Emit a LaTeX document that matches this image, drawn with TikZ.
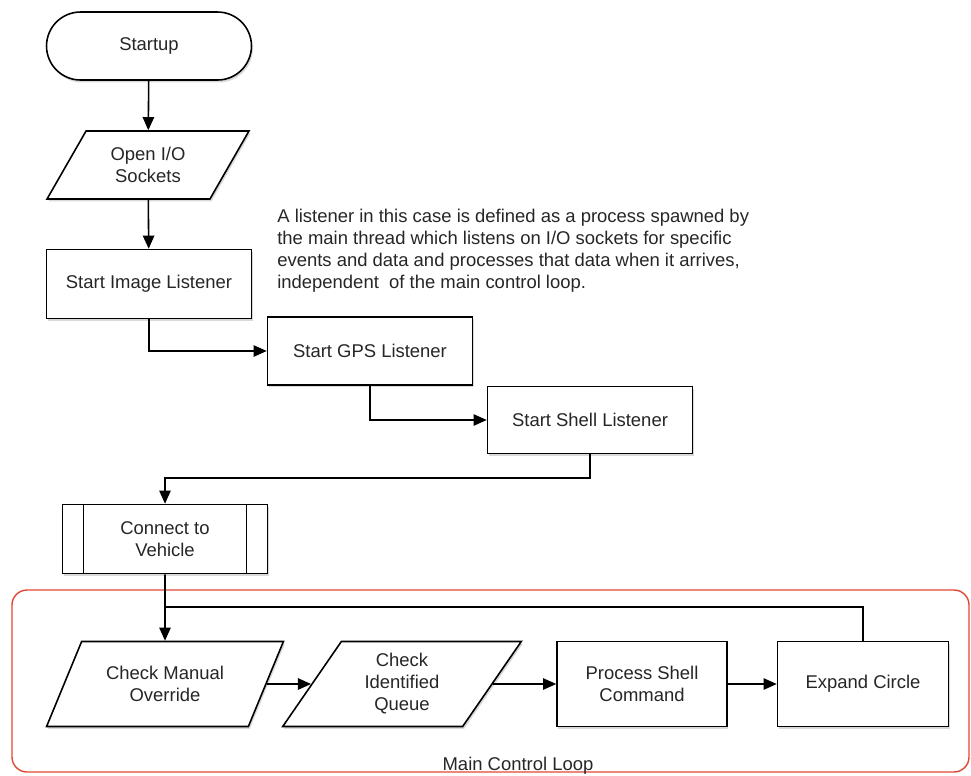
\documentclass[tikz,border=0pt]{standalone}
\usepackage{fontspec}
\setmainfont{Liberation Sans}
\usepackage{tikz}
\usetikzlibrary{positioning, arrows.meta, shapes, shadows}
\definecolor{loopred}{RGB}{224,72,52}

\begin{document}
\begin{tikzpicture}[
        x=0.02cm, y=-0.02cm,
        every node/.style={font=\fontsize{10.5}{12.5}\selectfont, text=black!85},
        shade_style/.style={drop shadow={shadow xshift=0.8pt, shadow yshift=-1.4pt, opacity=0.3}},
        box_style/.style={draw, fill=white, line width=0.9pt, shade_style, minimum width=4.1cm, minimum height=1.36cm, align=center},
        start_style/.style={box_style, rounded corners=0.68cm},
        io_style/.style={box_style, trapezium, trapezium left angle=60, trapezium right angle=120, trapezium stretches=true},
        sub_style/.style={box_style, path picture={
            \draw[line width=0.9pt] ([xshift=0.42cm]path picture bounding box.north west) -- ([xshift=0.42cm]path picture bounding box.south west);
            \draw[line width=0.9pt] ([xshift=-0.42cm]path picture bounding box.north east) -- ([xshift=-0.42cm]path picture bounding box.south east);}},
        edge_style/.style={line width=0.9pt},
        arrow_style/.style={edge_style, -{Triangle[length=7.5pt, width=6.5pt]}},
        loop_style/.style={draw=loopred, line width=0.8pt, rounded corners=0.3cm}
    ]
        \useasboundingbox (0,0) rectangle (971,775);

        % Coordinates
        \coordinate (startup_c) at (149,46);
        \coordinate (open_c) at (148,165);
        \coordinate (image_c) at (149,284);
        \coordinate (gps_c) at (370,351);
        \coordinate (shell_c) at (590,420);
        \coordinate (vehicle_c) at (165,539);
        \coordinate (manual_c) at (165,684);
        \coordinate (queue_c) at (402,684);
        \coordinate (command_c) at (642,684);
        \coordinate (expand_c) at (863,684);
        \coordinate (bend_shell) at (590,478);
        \coordinate (loop_join) at (165,607);

        % Main control loop frame
        \draw[loop_style] (12,590) rectangle (969,772);
        \node (loop_label) at (518,766) {Main Control Loop};

        % Nodes
        \node[start_style] (startup) at (startup_c) {Startup};
        \node[io_style, minimum width=4.06cm] (open) at (open_c) {Open I/O\\Sockets};
        \node[box_style, minimum height=1.38cm] (image) at (image_c) {Start Image Listener};
        \node[box_style] (gps) at (gps_c) {Start GPS Listener};
        \node[box_style, minimum height=1.34cm] (shell) at (shell_c) {Start Shell Listener};
        \node[sub_style, minimum height=1.38cm] (vehicle) at (vehicle_c) {Connect to\\Vehicle};
        \node[io_style, minimum width=4.74cm, minimum height=1.7cm] (manual) at (manual_c) {Check Manual\\Override};
        \node[io_style, minimum width=4.78cm, minimum height=1.7cm] (queue) at (queue_c) {Check\\Identified\\Queue};
        \node[box_style, minimum width=3.4cm, minimum height=1.7cm] (command) at (command_c) {Process Shell\\Command};
        \node[box_style, minimum width=3.42cm, minimum height=1.7cm] (expand) at (expand_c) {Expand Circle};

        % Note
        \node[anchor=north west, align=left, inner sep=0pt] (note) at (277,209)
            {A listener in this case is defined as a process spawned by\\
             the main thread which listens on I/O sockets for specific\\
             events and data and processes that data when it arrives,\\
             independent~ of the main control loop.};

        % Connectors
        \draw[arrow_style] (startup) -- (open);
        \draw[arrow_style] (open) -- (image);
        \draw[arrow_style] (image.south) |- (gps.west);
        \draw[arrow_style] (gps.south) |- (shell.west);
        \draw[arrow_style] (shell.south) -- (bend_shell) -| (vehicle.north);
        \draw[arrow_style] (vehicle.south) -- (manual.north);
        \draw[arrow_style] (manual.east) -- (queue.west);
        \draw[arrow_style] (queue.east) -- (command.west);
        \draw[arrow_style] (command.east) -- (expand.west);
        \draw[edge_style] (expand.north) |- (loop_join);
    \end{tikzpicture}
\end{document}
